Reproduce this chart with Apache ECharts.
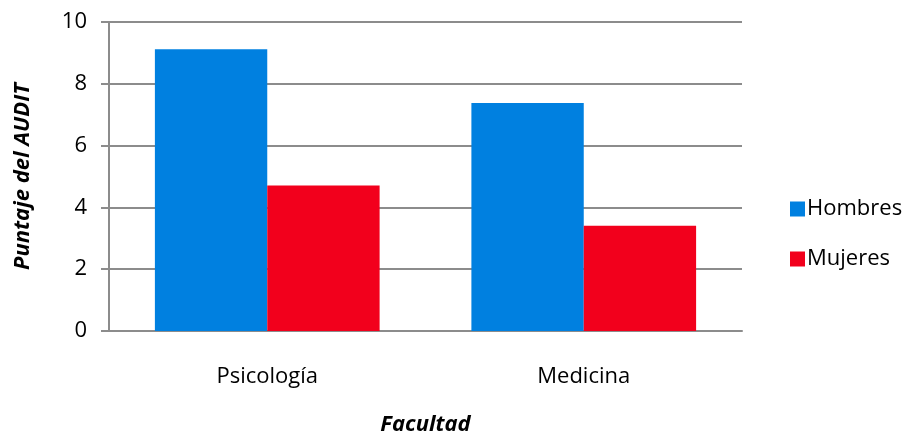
<!DOCTYPE html>
<html>
<head>
<meta charset="utf-8">
<script src="https://cdn.jsdelivr.net/npm/echarts@6/dist/echarts.min.js"></script>
<style>
  html, body { margin: 0; padding: 0; background: #fff; }
  #chart { width: 908px; height: 435px; }
</style>
</head>
<body>
<div id="chart"></div>
<script>
// Puntaje AUDIT promedio por facultad y sexo
const categories = ['Psicología', 'Medicina'];
const hombres = [9.12, 7.38];
const mujeres = [4.71, 3.41];
const yTicks = [0, 2, 4, 6, 8, 10];

const FONT = '"Open Sans", "Liberation Sans", sans-serif';

const chart = echarts.init(document.getElementById('chart'), null, { renderer: 'canvas' });
chart.setOption({
  animation: false,
  backgroundColor: '#ffffff',
  textStyle: { fontFamily: FONT },
  grid: { left: 109, right: 166, top: 22, bottom: 104, containLabel: false, outerBoundsMode: 'none' },
  legend: {
    orient: 'vertical',
    left: 785,
    top: 193,
    itemWidth: 15,
    itemHeight: 15,
    itemGap: 28,
    icon: 'rect',
    textStyle: { fontSize: 22, color: '#000', fontFamily: FONT, padding: [0, 0, 0, -3] },
    data: ['Hombres', 'Mujeres']
  },
  xAxis: {
    type: 'category',
    data: categories,
    name: 'Facultad',
    nameLocation: 'middle',
    nameGap: 83,
    nameTextStyle: { fontSize: 22, fontWeight: 'bold', fontStyle: 'italic', color: '#000', fontFamily: FONT },
    axisLine: { lineStyle: { color: '#8c8c8c', width: 2 } },
    axisTick: { show: false },
    axisLabel: { fontSize: 22, color: '#000', margin: 35, fontFamily: FONT }
  },
  yAxis: {
    type: 'value',
    min: yTicks[0],
    max: yTicks[yTicks.length - 1],
    interval: 2,
    name: 'Puntaje del AUDIT',
    nameLocation: 'middle',
    nameGap: 75,
    nameTextStyle: { fontSize: 22, fontWeight: 'bold', fontStyle: 'italic', color: '#000', fontFamily: FONT },
    axisLine: { show: true, lineStyle: { color: '#8c8c8c', width: 2 } },
    axisTick: { show: true, length: 8, lineStyle: { color: '#8c8c8c', width: 2 } },
    axisLabel: { fontSize: 22, color: '#000', margin: 22, fontFamily: FONT },
    splitLine: { lineStyle: { color: '#8c8c8c', width: 2 } }
  },
  series: [
    {
      name: 'Hombres',
      type: 'bar',
      data: hombres,
      barGap: '0%',
      barCategoryGap: '29%',
      itemStyle: { color: '#0080e0' }
    },
    {
      name: 'Mujeres',
      type: 'bar',
      data: mujeres,
      barGap: '0%',
      barCategoryGap: '29%',
      itemStyle: { color: '#f2001c' }
    }
  ]
});
</script>
</body>
</html>
